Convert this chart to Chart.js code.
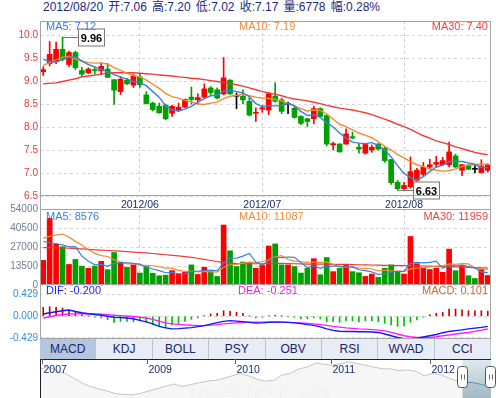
<!DOCTYPE html>
<html><head><meta charset="utf-8">
<script src="https://cdn.jsdelivr.net/npm/chart.js@4.4.0/dist/chart.umd.min.js"></script>
<style>
html,body{margin:0;padding:0;background:#fff;}
body{width:496px;height:398px;position:relative;overflow:hidden;font-family:"Liberation Sans",Arial,"Noto Sans CJK SC",sans-serif;}
canvas{position:absolute;left:0;}
.lb{position:absolute;font-size:11px;line-height:12px;white-space:nowrap;}
#hdr{position:absolute;left:43px;top:0px;font-size:12px;line-height:14px;color:#1c2a7c;white-space:nowrap;word-spacing:1.8px;font-family:"Liberation Sans","Noto Sans CJK SC",sans-serif;}
#tabs{position:absolute;left:40px;top:339px;width:451px;height:20px;display:flex;background:#e7ecf5;}
#tabs div{flex:1;text-align:center;font-size:12px;line-height:20px;color:#1c2468;border-right:1px solid #b6c3d8;}
#tabs div.on{background:#b4c5e0;}
#wm{position:absolute;left:188px;top:384px;font-family:"DejaVu Sans Mono",monospace;font-size:15px;letter-spacing:2px;color:#fbfbfb;text-shadow:0 0 1px #d4d4d4;}
</style></head>
<body>
<div id="hdr">2012/08/20 开:7.06 高:7.20 低:7.02 收:7.17 量:6778 幅:0.28%</div>
<canvas id="cPrice" width="496" height="212" style="top:0px"></canvas>
<canvas id="cVol" width="496" height="92" style="top:199px"></canvas>
<canvas id="cMacd" width="496" height="64" style="top:281px"></canvas>
<canvas id="cNav" width="496" height="39" style="top:359px"></canvas>
<div id="wm">laserfair.com</div>
<div id="labels"></div>
<div id="tabs"></div>
<script>
// ---------- data ----------
const dates = ['2012/05/11','2012/05/14','2012/05/15','2012/05/16','2012/05/17','2012/05/18','2012/05/21','2012/05/22','2012/05/23','2012/05/24','2012/05/25','2012/05/28','2012/05/29','2012/05/30','2012/05/31',
'2012/06/01','2012/06/04','2012/06/05','2012/06/06','2012/06/07','2012/06/08','2012/06/11','2012/06/12','2012/06/13','2012/06/14','2012/06/15','2012/06/18','2012/06/19','2012/06/20','2012/06/21','2012/06/25','2012/06/26','2012/06/27','2012/06/28',
'2012/07/02','2012/07/03','2012/07/04','2012/07/05','2012/07/06','2012/07/09','2012/07/10','2012/07/11','2012/07/12','2012/07/13','2012/07/16','2012/07/17','2012/07/18','2012/07/19','2012/07/20','2012/07/23','2012/07/24','2012/07/25','2012/07/26','2012/07/27','2012/07/30','2012/07/31',
'2012/08/01','2012/08/02','2012/08/03','2012/08/06','2012/08/07','2012/08/08','2012/08/09','2012/08/10','2012/08/13','2012/08/14','2012/08/15','2012/08/16','2012/08/17','2012/08/20'];

const opens  = [9.20,9.38,9.42,9.69,9.36,9.62,9.23,9.18,9.25,9.22, 9.26,9.03,8.77,9.02,8.91,9.09,8.70,8.52,8.45,8.47, 8.30,8.36,8.43,8.65,8.59,8.65,8.85,8.81,8.72,9.02, 8.67,8.67,8.56,8.30,8.39,8.37,8.67,8.59,8.49,8.41, 8.23,8.18,8.18,8.40,8.25,7.61,7.63,7.63,7.79,7.56, 7.43,7.50,7.63,7.54,7.29,6.80,6.66,6.70,6.84,6.97, 7.13,7.19,7.18,7.18,7.37,7.06,7.16,7.08,7.01,7.06];
const highs  = [9.31,9.86,9.85,9.96,9.65,9.65,9.30,9.29,9.30,9.40, 9.38,9.03,9.09,9.06,9.15,9.16,8.77,8.54,8.52,8.50, 8.47,8.52,8.61,8.87,8.72,8.94,8.88,8.85,9.51,9.03, 8.74,8.81,8.65,8.42,8.47,8.75,8.96,8.63,8.54,8.45, 8.25,8.19,8.45,8.42,8.27,7.67,7.64,7.96,7.89,7.64, 7.64,7.61,7.64,7.56,7.30,6.84,6.80,7.35,7.10,7.23, 7.30,7.36,7.34,7.67,7.41,7.19,7.18,7.16,7.29,7.20];
const lows   = [9.12,9.33,9.38,9.44,9.32,9.25,9.10,9.16,9.15,9.14, 9.07,8.49,8.71,8.92,8.86,8.86,8.50,8.35,8.30,8.16, 8.23,8.34,8.42,8.50,8.50,8.63,8.69,8.61,8.70,8.71, 8.40,8.50,8.24,8.12,8.32,8.27,8.54,8.29,8.29,8.19, 8.05,8.01,8.07,8.21,7.59,7.50,7.45,7.62,7.74,7.43, 7.41,7.45,7.50,7.23,6.75,6.63,6.64,6.67,6.82,6.94, 7.08,7.12,7.16,7.13,7.12,6.94,7.07,7.00,7.00,7.02];
const closes = [9.25,9.58,9.69,9.47,9.62,9.29,9.15,9.26,9.23,9.32, 9.08,8.80,9.04,8.94,9.11,8.92,8.51,8.38,8.31,8.18, 8.45,8.43,8.60,8.60,8.64,8.83,8.75,8.63,9.07,8.72, 8.67,8.59,8.26,8.32,8.42,8.72,8.56,8.34,8.49,8.21, 8.08,8.12,8.40,8.23,7.63,7.64,7.46,7.85,7.76,7.52, 7.62,7.56,7.52,7.27,6.79,6.66,6.73,7.03,7.06,7.13, 7.18,7.23,7.27,7.46,7.13,7.18,7.08,7.08,7.15,7.17];

const ma5  = [9.47,9.43,9.41,9.47,9.52,9.53,9.44,9.36,9.31,9.25, 9.21,9.14,9.09,9.04,8.99,8.96,8.90,8.77,8.65,8.46, 8.37,8.35,8.39,8.45,8.54,8.62,8.68,8.69,8.78,8.80, 8.77,8.74,8.66,8.51,8.45,8.46,8.46,8.47,8.51,8.46, 8.34,8.25,8.26,8.21,8.09,8.00,7.87,7.76,7.67,7.65, 7.64,7.66,7.60,7.50,7.35,7.16,6.99,6.90,6.85,6.92, 7.03,7.13,7.17,7.25,7.25,7.25,7.22,7.19,7.12,7.12];
const ma10 = [9.34,9.40,9.46,9.52,9.54,9.48,9.43,9.40,9.39,9.39, 9.37,9.29,9.23,9.17,9.12,9.09,9.02,8.93,8.84,8.73, 8.66,8.63,8.58,8.55,8.50,8.49,8.52,8.54,8.62,8.67, 8.69,8.71,8.68,8.65,8.63,8.62,8.60,8.57,8.51,8.46, 8.40,8.35,8.37,8.36,8.28,8.17,8.06,8.01,7.94,7.87, 7.82,7.77,7.68,7.58,7.50,7.40,7.33,7.25,7.18,7.14, 7.09,7.06,7.04,7.05,7.09,7.14,7.18,7.18,7.19,7.19];
const ma30 = [8.94,8.95,8.96,8.99,9.02,9.05,9.09,9.11,9.13,9.15, 9.17,9.18,9.18,9.18,9.18,9.17,9.16,9.15,9.13,9.12, 9.11,9.09,9.08,9.06,9.05,9.03,9.01,8.99,8.97,8.95, 8.92,8.89,8.85,8.81,8.77,8.74,8.71,8.68,8.64,8.61, 8.59,8.57,8.54,8.51,8.47,8.44,8.41,8.39,8.37,8.34, 8.31,8.27,8.22,8.17,8.12,8.06,8.01,7.95,7.88,7.81, 7.76,7.70,7.66,7.62,7.57,7.53,7.49,7.45,7.42,7.40];

const volumes = [17500,47400,28900,27200,14600,18200,13400,11900,13400,16800, 10900,23100,15600,12600,14300,8500,13100,8300,6600,7000, 10200,7800,9000,14300,7500,12600,9500,6100,42600,24300, 13100,16300,15800,11900,13900,27700,29200,14300,14300,13100, 8500,11900,18700,7300,19500,9500,11900,14600,9500,8700, 6100,7800,5400,11900,14300,9000,7800,34500,15100,12200, 11000,11900,9000,25500,10200,14000,6600,4600,11000,6778];
const volMa5  = [30900,30000,29500,28500,27120,27260,20460,17060,14300,14740, 13280,15220,15960,15800,15300,14820,12820,11360,10160,8700, 9040,7980,8120,9660,9760,10240,10580,10000,15660,19020, 19120,20480,22420,16280,14200,17120,19700,19400,19880,19720, 15880,12420,13300,11900,13180,13380,13380,12560,13000,10840, 10160,9340,7500,7980,9100,9680,9680,15500,16140,15720, 16120,16940,11840,13920,13520,14120,13060,12180,9280,8576];
const volMa10 = [33300,34500,35500,36200,34000,31000,28500,25000,22500,20930, 20270,17840,16510,15050,15020,14050,14020,13660,12980,12000, 11930,10400,9740,9910,9230,9640,9280,9060,12660,14390, 14680,15530,16210,15970,16610,18120,20090,20910,18080,16960, 16500,16060,16350,15890,16450,14630,12900,12930,12450,12010, 11770,11360,10030,10490,9970,9920,9510,11500,12060,12410, 12900,13310,13670,15030,14620,15120,15000,12010,11600,11087];
const volMa30 = [26500,26500,26400,26300,26100,25900,25600,25300,25000,24800, 24500,24300,24000,23700,23400,23100,22800,22400,22000,21500, 21100,20700,20200,19600,19000,18200,17400,16600,16000,15500, 15200,15100,15100,15100,15100,15200,15300,15300,15200,15100, 15000,14900,14900,14800,14800,14700,14600,14600,14500,14400, 14300,14200,14100,14000,13900,13800,13700,13700,13600,13500, 13400,13300,13200,13100,12900,12700,12500,12300,12100,11959];

const dif  = [0.046,0.07,0.09,0.11,0.125,0.095,0.07,0.05,0.035,0.02, 0.0,-0.02,-0.025,-0.035,-0.05,-0.08,-0.11,-0.15,-0.20,-0.23, -0.25,-0.245,-0.235,-0.225,-0.205,-0.185,-0.155,-0.125,-0.10,-0.085, -0.095,-0.105,-0.12,-0.135,-0.13,-0.12,-0.115,-0.115,-0.12,-0.13, -0.145,-0.165,-0.18,-0.21,-0.25,-0.28,-0.295,-0.30,-0.30,-0.305, -0.305,-0.31,-0.32,-0.35,-0.385,-0.42,-0.445,-0.445,-0.435,-0.41, -0.385,-0.36,-0.325,-0.30,-0.285,-0.27,-0.25,-0.235,-0.22,-0.200];
const dea  = [-0.034,-0.01,0.015,0.035,0.046,0.048,0.05,0.05,0.045,0.04, 0.032,0.022,0.014,0.006,-0.003,-0.02,-0.034,-0.06,-0.095,-0.13, -0.15,-0.16,-0.17,-0.178,-0.183,-0.185,-0.175,-0.166,-0.15,-0.14, -0.13,-0.12,-0.118,-0.118,-0.116,-0.113,-0.114,-0.116,-0.12,-0.126, -0.132,-0.14,-0.15,-0.165,-0.18,-0.2,-0.215,-0.23,-0.24,-0.25, -0.255,-0.265,-0.275,-0.29,-0.32,-0.35,-0.385,-0.405,-0.42,-0.42, -0.42,-0.405,-0.385,-0.37,-0.35,-0.335,-0.32,-0.3,-0.275,-0.251];
const macd = [0.178,0.19,0.178,0.165,0.125,0.085,0.03,0.005,-0.02,-0.034, -0.07,-0.12,-0.10,-0.10,-0.11,-0.09,-0.12,-0.17,-0.20,-0.23, -0.17,-0.14,-0.10,-0.06,-0.03,0.013,0.046,0.06,0.11,0.10, 0.08,0.06,0.005,-0.03,-0.02,0.01,0.02,0.005,-0.005,-0.02, -0.05,-0.05,-0.03,-0.05,-0.11,-0.10,-0.12,-0.09,-0.09,-0.11, -0.09,-0.09,-0.11,-0.14,-0.17,-0.20,-0.19,-0.12,-0.07,-0.02, 0.03,0.06,0.08,0.145,0.145,0.13,0.11,0.11,0.11,0.101];

const priceTicks  = [6.5,7.0,7.5,8.0,8.5,9.0,9.5,10.0];
const volumeTicks = [0,13500,27000,40500,54000];
const macdTicks   = [-0.429,0,0.429];

const navValues = [15.85,16.65,15.0,13.65,11.65,9.15,7.5,6.35,5.35,4.15, 3.65,3.5,4.15,5.35,6.35,7.5,8.65,7.5,8.35,9.15, 10.0,10.35,11.35,12.5,13.65,12.5,10.85,10.0,10.35,13.0, 13.65,15.85,16.65,18.65,18.0,17.5,18.35,19.15,18.35,17.5, 16.65,15.85,15.85,15.0,15.35,14.65,12.5,13.65,13.0,11.35, 10.0,9.65,9.15,8.35,7.0];
const navYears   = ['2007','2009','2010','2011','2012'];
const navYearPos = [0.25,12.8,23.4,34.9,46.7];
const navSelectFrom = 50.6;
const tabNames = ['MACD','KDJ','BOLL','PSY','OBV','RSI','WVAD','CCI'];

// ---------- derived helpers ----------
const UP='#ff0000', DOWN='#00a000', FLAT='#000000';
const candleColors = closes.map((c,i)=> c>opens[i]?UP:(c<opens[i]?DOWN:FLAT));
const volColors = closes.map((c,i)=> c>opens[i]?UP:(c<opens[i]?DOWN:(i>0&&c>closes[i-1]?UP:DOWN)));
const monthIdx = dates.map((d,i)=>i).filter(i=>i>0 && dates[i].slice(0,7)!==dates[i-1].slice(0,7));

Chart.defaults.font.family='"Liberation Sans", Arial, sans-serif';
Chart.defaults.font.size=10;
Chart.defaults.animation=false;
Chart.defaults.events=[];

const framePlugin = {
  id:'frame',
  afterDraw(chart, args, o){
    const {ctx, chartArea:a} = chart;
    ctx.save(); ctx.strokeStyle='#a4a4a4'; ctx.lineWidth=1;
    const L=a.left+0.5, R=a.right-0.5, T=a.top+0.5, B=a.bottom-0.5, ext=o.ext||0;
    ctx.beginPath();
    if(o.top!==false){ctx.moveTo(L,T);ctx.lineTo(R,T);}
    ctx.moveTo(L,B);ctx.lineTo(R,B);
    ctx.moveTo(L,a.top);ctx.lineTo(L,a.bottom+ext);
    ctx.moveTo(R,a.top);ctx.lineTo(R,a.bottom+ext);
    ctx.stroke(); ctx.restore();
  }
};

function xAxis(show, labels){
  return {
    type:'category', offset:true, display:show,
    grid:{offset:false, color:'#cfcfcf', drawTicks:false},
    border:{display:false, dash:[3,3]},
    ticks:{display:labels, autoSkip:false, maxRotation:0, padding:3, color:'#1c2c70', font:{size:10.5},
      callback:(v)=>dates[v].slice(0,7)},
    afterBuildTicks:s=>{s.ticks = monthIdx.map(v=>({value:v}));},
    afterFit:s=>{s.height = labels?13:0; s.paddingLeft=0; s.paddingRight=0;}
  };
}
function yAxis(min,max,ticks,fmt,color){
  return {
    position:'left', min, max,
    grid:{color:'#d6d6d6', drawTicks:false},
    border:{display:false, dash:[3,3]},
    ticks:{color, padding:2, font:{size:10}, autoSkip:false, callback:fmt},
    afterBuildTicks:s=>{s.ticks = ticks.map(v=>({value:v}));},
    afterFit:s=>{s.width=40; s.paddingTop=0; s.paddingBottom=0;}
  };
}
function lineDs(data,color,w){
  return {type:'line', data, borderColor:color, borderWidth:w||1.3, pointRadius:0, tension:0, order:0};
}

// ---------- price chart ----------
const markerPlugin = {
  id:'markers',
  afterDatasetsDraw(chart){
    const {ctx, scales:{x,y}} = chart;
    const hi = highs.indexOf(Math.max(...highs));
    const lo = lows.indexOf(Math.min(...lows));
    [[hi,highs[hi]],[lo,lows[lo]]].forEach(([i,v])=>{
      const px=x.getPixelForValue(i), py=Math.round(y.getPixelForValue(v))+0.5;
      const bx=Math.round(px)+15.5, bw=26, bh=17;
      ctx.save();
      ctx.strokeStyle='#777'; ctx.lineWidth=1;
      ctx.beginPath(); ctx.moveTo(px,py); ctx.lineTo(bx,py); ctx.stroke();
      ctx.fillStyle='#fff'; ctx.fillRect(bx,py-bh/2,bw,bh);
      ctx.strokeRect(bx,py-bh/2,bw,bh);
      ctx.fillStyle='#000'; ctx.font='bold 11px "Liberation Sans", Arial';
      ctx.textAlign='center'; ctx.textBaseline='middle';
      ctx.fillText(v.toFixed(2), bx+bw/2, py+1);
      ctx.restore();
    });
  }
};
new Chart(document.getElementById('cPrice'),{
  type:'bar',
  data:{labels:dates, datasets:[
    lineDs(ma5,'#3a80d8',1.4), lineDs(ma10,'#f48a32',1.4), lineDs(ma30,'#f03a3a',1.4),
    {data:opens.map((o,i)=>[o,closes[i]]), backgroundColor:candleColors, barThickness:5, grouped:false, minBarLength:1, borderWidth:0, order:1},
    {data:lows.map((l,i)=>[l,highs[i]]), backgroundColor:candleColors, barThickness:1, grouped:false, borderWidth:0, order:2}
  ]},
  options:{responsive:false, layout:{padding:{top:21,right:5,bottom:3,left:0}},
    plugins:{legend:{display:false}, tooltip:{enabled:false}, frame:{ext:13}},
    scales:{x:xAxis(true,true), y:yAxis(6.5,10.306,priceTicks,v=>v.toFixed(1),'#ee3535')}},
  plugins:[framePlugin, markerPlugin]
});

// ---------- volume chart ----------
new Chart(document.getElementById('cVol'),{
  type:'bar',
  data:{labels:dates, datasets:[
    lineDs(volMa5,'#3a80d8',1.2), lineDs(volMa10,'#f48a32',1.2), lineDs(volMa30,'#f03a3a',1.2),
    {data:volumes, backgroundColor:volColors, barThickness:5, borderWidth:0, order:1}
  ]},
  options:{responsive:false, layout:{padding:{top:10,right:5,bottom:6,left:0}},
    plugins:{legend:{display:false}, tooltip:{enabled:false}, frame:{}},
    scales:{x:xAxis(true,false), y:yAxis(0,54000,volumeTicks,v=>String(v),'#6d7e9a')}},
  plugins:[framePlugin]
});

// ---------- MACD chart ----------
new Chart(document.getElementById('cMacd'),{
  type:'bar',
  data:{labels:dates, datasets:[
    lineDs(dif,'#1414ff',1.4), lineDs(dea,'#ff1cff',1.4),
    {data:macd.map(v=>[0,v]), backgroundColor:macd.map(v=>v>=0?'#cc0000':'#00c000'), barThickness:1, borderWidth:0, grouped:false, order:1}
  ]},
  options:{responsive:false, layout:{padding:{top:4,right:5,bottom:6,left:0}},
    plugins:{legend:{display:false}, tooltip:{enabled:false}, frame:{top:false}},
    scales:{x:xAxis(false,false),
      y:yAxis(-0.45,0.62,macdTicks,v=>v.toFixed(3),'#2e8fdc')}},
  plugins:[framePlugin]
});

// ---------- navigator ----------
const navPlugin = {
  id:'nav',
  beforeDatasetsDraw(chart){
    const {ctx, chartArea:a, scales:{x}} = chart;
    const sx = x.getPixelForValue(navSelectFrom);
    const g = ctx.createLinearGradient(0,a.top,0,a.bottom);
    g.addColorStop(0,'#e2eaed'); g.addColorStop(1,'#a6c0c9');
    ctx.save(); ctx.fillStyle=g; ctx.fillRect(sx,a.top,a.right-sx,a.bottom-a.top); ctx.restore();
  },
  afterDraw(chart){
    const {ctx, chartArea:a, scales:{x}} = chart;
    ctx.save();
    ctx.strokeStyle='#222'; ctx.lineWidth=1;
    ctx.beginPath(); ctx.moveTo(a.left,a.top+0.5); ctx.lineTo(a.right,a.top+0.5);
    ctx.moveTo(a.left+0.5,a.top); ctx.lineTo(a.left+0.5,a.bottom); ctx.stroke();
    ctx.strokeStyle='#666'; ctx.fillStyle='#1c2c70';
    ctx.font='10.5px "Liberation Sans", Arial'; ctx.textBaseline='middle'; ctx.textAlign='left';
    navYears.forEach((yr,i)=>{
      const px=Math.round(x.getPixelForValue(navYearPos[i]))+0.5;
      ctx.beginPath(); ctx.moveTo(px,a.top); ctx.lineTo(px,a.top+5); ctx.stroke();
      ctx.fillText(yr, px+1, a.top+11);
    });
    const sx=Math.round(x.getPixelForValue(navSelectFrom));
    [sx, Math.round(a.right)].forEach(hx=>{
      const l=hx-5.5, t=a.top+7.5, w=10, h=21;
      ctx.fillStyle='#fff'; ctx.strokeStyle='#555';
      ctx.beginPath(); ctx.roundRect(l,t,w,h,3); ctx.fill(); ctx.stroke();
      ctx.strokeStyle='#666';
      ctx.beginPath(); ctx.moveTo(hx-1.5,t+8); ctx.lineTo(hx-1.5,t+13); ctx.moveTo(hx+1.5,t+8); ctx.lineTo(hx+1.5,t+13); ctx.stroke();
    });
    ctx.restore();
  }
};
new Chart(document.getElementById('cNav'),{
  type:'line',
  data:{datasets:[{data:navValues.map((v,i)=>({x:i,y:v})), borderColor:'#c4c4c4', borderWidth:1, pointRadius:0,
    fill:'start', backgroundColor:'rgba(0,0,0,0.035)',
    segment:{borderColor:c=> c.p0.parsed.x>=navSelectFrom-1 ? '#4e8fc2' : '#c4c4c4'}}]},
  options:{responsive:false, layout:{padding:{top:0,right:5,bottom:0,left:40}},
    plugins:{legend:{display:false}, tooltip:{enabled:false}},
    scales:{x:{type:'linear', min:0, max:navValues.length-1, display:false},
            y:{min:2, max:20.5, display:false}}},
  plugins:[navPlugin]
});

// ---------- text overlays ----------
const last = a => a[a.length-1];
const lab = [
  ['MA5: '+last(ma5).toFixed(2), 46, 20, '#3a80d8', 'l'],
  ['MA10: '+last(ma10).toFixed(2), 239, 20, '#f08a3c', 'l'],
  ['MA30: '+last(ma30).toFixed(2), 488, 20, '#ef4444', 'r'],
  ['MA5: '+last(volMa5), 46, 210, '#3a80d8', 'l'],
  ['MA10: '+last(volMa10), 239, 210, '#f08a3c', 'l'],
  ['MA30: '+last(volMa30), 488, 210, '#ef4444', 'r'],
  ['DIF: '+last(dif).toFixed(3), 46, 284, '#1a1aff', 'l'],
  ['DEA: '+last(dea).toFixed(3), 238, 284, '#ee22ee', 'l'],
  ['MACD: '+last(macd).toFixed(3), 488, 284, '#cc6633', 'r']
];
const box = document.getElementById('labels');
lab.forEach(([t,x,y,c,al])=>{
  const d=document.createElement('div'); d.className='lb'; d.textContent=t; d.style.color=c; d.style.top=y+'px';
  if(al==='l') d.style.left=x+'px'; else d.style.right=(496-x)+'px';
  box.appendChild(d);
});
const tabs=document.getElementById('tabs');
tabNames.forEach((n,i)=>{const d=document.createElement('div'); d.textContent=n; if(i===0)d.className='on'; tabs.appendChild(d);});
</script>
</body></html>
